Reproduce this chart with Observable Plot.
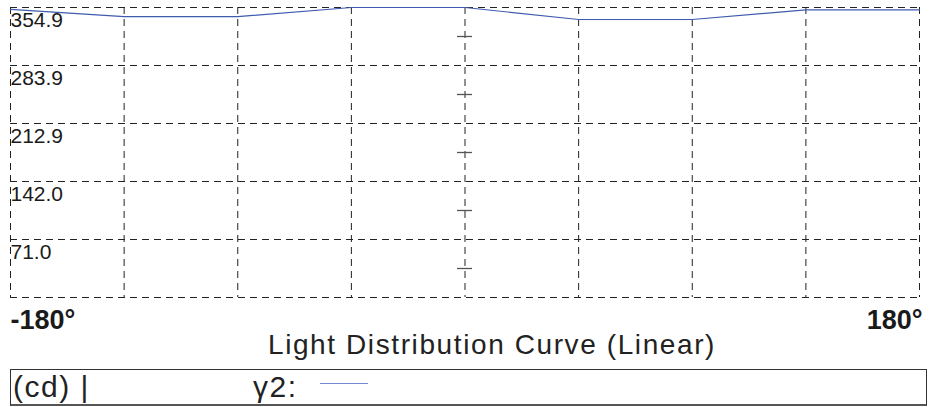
<!DOCTYPE html>
<html>
<head>
<meta charset="utf-8">
<script src="https://cdn.jsdelivr.net/npm/d3@7"></script>
<script src="https://cdn.jsdelivr.net/npm/@observablehq/plot@0.6"></script>
<style>
  html, body { margin: 0; padding: 0; background: #fff; }
  #wrap { position: relative; width: 939px; height: 407px; font-family: "Liberation Sans", Arial, sans-serif; color: #222; }
  #chart { position: absolute; left: 0; top: 0; }
  #title { position: absolute; left: 0; width: 984px; top: 330px; text-align: center; font-size: 28px; line-height: 30px; letter-spacing: 1.6px; color: #222; white-space: nowrap; }
  #legend { position: absolute; left: 10px; top: 369px; width: 915px; height: 34px; border: 1px solid #333; border-bottom: 2px solid #555; box-sizing: content-box; }
  #legend .unit { position: absolute; left: 2px; top: 1px; font-size: 30px; line-height: 32px; letter-spacing: 1.5px; }
  #legend .name { position: absolute; left: 242px; top: 1px; font-size: 30px; line-height: 32px; letter-spacing: 1.5px; }
  #legend .swatch { position: absolute; left: 309px; top: 13px; width: 48px; height: 0; border-top: 1.5px solid #7489d2; }
</style>
</head>
<body>
<div id="wrap">
  <div id="chart"></div>
  <div id="title"></div>
  <div id="legend"><span class="unit"></span><span class="name"></span><span class="swatch"></span></div>
</div>
<script>
// ---- data ----
const angles = [-180, -135, -90, -45, 0, 45, 90, 135, 180];
const intensity = [352.5, 343.7, 343.7, 354.9, 354.9, 340.2, 340.2, 352.0, 352.0];
const yTicks = [0, 70.98, 141.96, 212.94, 283.92, 354.9];
const yLabelTicks = [70.98, 141.96, 212.94, 283.92, 354.9];
const centerTicks = [35.49, 106.47, 177.45, 248.43, 319.41];
const xTicks = [-180, -135, -90, -45, 0, 45, 90, 135, 180];
const xStartLabel = [-180];
const xEndLabel = [180];
const titleText = "Light Distribution Curve (Linear)";
const unitText = "(cd) |";
const seriesName = "γ2:";

const rows = angles.map((a, i) => ({angle: a, value: intensity[i]}));

const chart = Plot.plot({
  width: 939,
  height: 340,
  marginLeft: 10,
  marginRight: 20,
  marginTop: 7,
  marginBottom: 43,
  style: {fontFamily: "'Liberation Sans', Arial, sans-serif", background: "#fff", overflow: "visible"},
  x: {domain: [-180, 180], axis: null},
  y: {domain: [0, 354.9], axis: null},
  marks: [
    Plot.ruleY(yTicks, {stroke: "#222", strokeDasharray: "7,5", strokeWidth: 1}),
    Plot.ruleX(xTicks, {stroke: "#222", strokeDasharray: "7,5", strokeWidth: 1}),
    Plot.ruleY(centerTicks, {x1: 0, x2: 0, insetLeft: -7.5, insetRight: -7.5, stroke: "#555", strokeWidth: 1.3}),
    Plot.line(rows, {x: "angle", y: "value", stroke: "#3f5bb0", strokeWidth: 1.2}),
    Plot.text(yLabelTicks, {x: -180, y: d => d, text: d => d.toFixed(1), textAnchor: "start", dx: 0, dy: 13, fontSize: 21, fill: "#1a1a1a"}),
    Plot.text(xStartLabel, {x: d => d, y: 0, text: d => d + "°", textAnchor: "start", dx: 0, dy: 23, fontSize: 27, fontWeight: "bold", fill: "#1a1a1a"}),
    Plot.text(xEndLabel, {x: d => d, y: 0, text: d => d + "°", textAnchor: "end", dx: 3, dy: 23, fontSize: 27, fontWeight: "bold", fill: "#1a1a1a"})
  ]
});
document.getElementById("chart").appendChild(chart);
document.getElementById("title").textContent = titleText;
document.querySelector("#legend .unit").textContent = unitText;
document.querySelector("#legend .name").textContent = seriesName;
</script>
</body>
</html>
